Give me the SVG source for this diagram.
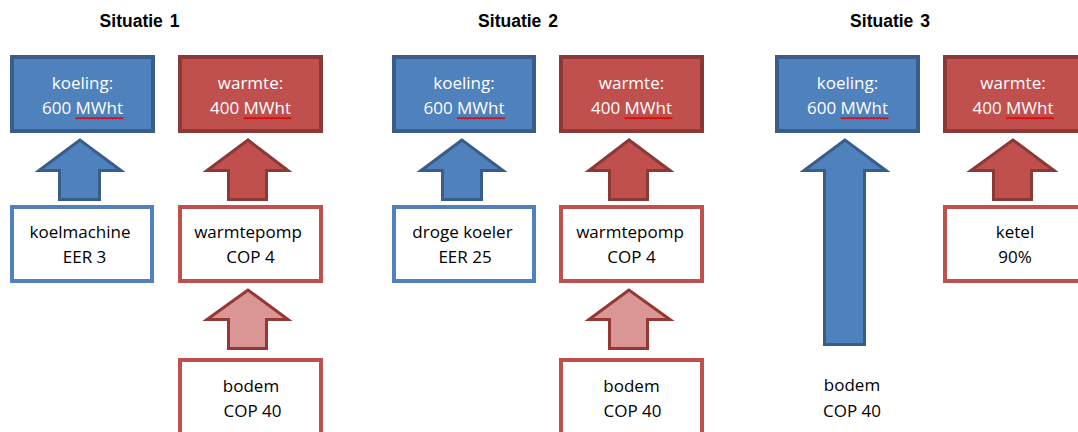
<svg xmlns="http://www.w3.org/2000/svg" width="1078" height="432" viewBox="0 0 1078 432">
<style>
.title{font-family:"Liberation Sans",Arial,sans-serif;font-weight:bold;font-size:17.5px;fill:#000;text-anchor:middle;word-spacing:2px}
.lbl{font-family:"Open Sans","Liberation Sans",Arial,sans-serif;font-size:17px;text-anchor:middle}
.w{fill:#fff}
.k{fill:#000}
.bluebox{fill:#4F81BD;stroke:#385D8A;stroke-width:4}
.redbox{fill:#C0504D;stroke:#8C3836;stroke-width:4}
.bluewhite{fill:#fff;stroke:#4F81BD;stroke-width:4}
.redwhite{fill:#fff;stroke:#C0504D;stroke-width:4}
.barrow{fill:#4F81BD;stroke:#385D8A;stroke-width:3;stroke-linejoin:miter}
.rarrow{fill:#C0504D;stroke:#8C3836;stroke-width:3;stroke-linejoin:miter}
.parrow{fill:#D99694;stroke:#953735;stroke-width:3;stroke-linejoin:miter}
.sq{fill:none;stroke:#E00000;stroke-width:1.3}
</style>
<defs>
<path id="squig" d="M0,0 l1.5,1.2 1.5,-1.2 1.5,1.2 1.5,-1.2 1.5,1.2 1.5,-1.2 1.5,1.2 1.5,-1.2 1.5,1.2 1.5,-1.2 1.5,1.2 1.5,-1.2 1.5,1.2 1.5,-1.2 1.5,1.2 1.5,-1.2 1.5,1.2 1.5,-1.2 1.5,1.2 1.5,-1.2 1.5,1.2 1.5,-1.2 1.5,1.2 1.5,-1.2 1.5,1.2 1.5,-1.2 1.5,1.2 1.5,-1.2 1.5,1.2 1.5,-1.2 1.5,1.2 1.5,-1.2"/>
</defs>

<text class="title" x="139.5" y="27">Situatie 1</text>
<text class="title" x="518" y="27">Situatie 2</text>
<text class="title" x="890" y="27">Situatie 3</text>

<g id="connectors">
<path class="barrow" d="M80,140 L39,170.5 L59.5,170.5 L59.5,199.5 L99.5,199.5 L99.5,170.5 L121,170.5 Z"/>
<path class="rarrow" d="M248,140 L207,170.5 L228.5,170.5 L228.5,199.5 L266.5,199.5 L266.5,170.5 L288,170.5 Z"/>
<path class="parrow" d="M248,290 L207,319.5 L228.5,319.5 L228.5,348.5 L266.5,348.5 L266.5,319.5 L288,319.5 Z"/>
<path class="barrow" d="M462,140 L421,170.5 L442.5,170.5 L442.5,199.5 L481.5,199.5 L481.5,170.5 L503,170.5 Z"/>
<path class="rarrow" d="M629,140 L589,170.5 L609.5,170.5 L609.5,199.5 L647.5,199.5 L647.5,170.5 L670,170.5 Z"/>
<path class="parrow" d="M629,290 L589,319.5 L609.5,319.5 L609.5,348.5 L647.5,348.5 L647.5,319.5 L670,319.5 Z"/>
<path class="barrow" d="M845,140 L804,170.5 L824.5,170.5 L824.5,344.5 L864.5,344.5 L864.5,170.5 L886,170.5 Z"/>
<path class="rarrow" d="M1013,140 L971,170.5 L993.5,170.5 L993.5,199.5 L1031.5,199.5 L1031.5,170.5 L1054,170.5 Z"/>
</g>

<g id="s1-koeling">
<rect class="bluebox" x="12" y="57" width="141" height="74"/>
<text class="lbl w" x="82.5" y="89">koeling:</text>
<text class="lbl w" x="82.5" y="114">600 MWht</text>
<use href="#squig" class="sq" x="75.5" y="117.5"/>
</g>
<g id="s1-warmte">
<rect class="redbox" x="180" y="57" width="141" height="74"/>
<text class="lbl w" x="250.5" y="89">warmte:</text>
<text class="lbl w" x="250.5" y="114">400 MWht</text>
<use href="#squig" class="sq" x="243.5" y="117.5"/>
</g>
<g id="s1-koelmachine">
<rect class="bluewhite" x="12" y="207" width="140" height="74"/>
<text class="lbl k" x="80" y="238">koelmachine</text>
<text class="lbl k" x="84.5" y="263">EER 3</text>
</g>
<g id="s1-warmtepomp">
<rect class="redwhite" x="180" y="207" width="141" height="74"/>
<text class="lbl k" x="248" y="238">warmtepomp</text>
<text class="lbl k" x="250.5" y="263">COP 4</text>
</g>
<g id="s1-bodem">
<rect class="redwhite" x="180" y="360" width="141" height="80"/>
<text class="lbl k" x="251" y="392">bodem</text>
<text class="lbl k" x="252.5" y="417">COP 40</text>
</g>

<g id="s2-koeling">
<rect class="bluebox" x="394" y="57" width="140" height="74"/>
<text class="lbl w" x="464" y="89">koeling:</text>
<text class="lbl w" x="464" y="114">600 MWht</text>
<use href="#squig" class="sq" x="457" y="117.5"/>
</g>
<g id="s2-warmte">
<rect class="redbox" x="561" y="57" width="141" height="74"/>
<text class="lbl w" x="631.5" y="89">warmte:</text>
<text class="lbl w" x="631.5" y="114">400 MWht</text>
<use href="#squig" class="sq" x="624.5" y="117.5"/>
</g>
<g id="s2-droge-koeler">
<rect class="bluewhite" x="394" y="207" width="140" height="74"/>
<text class="lbl k" x="462.5" y="238">droge koeler</text>
<text class="lbl k" x="465" y="263">EER 25</text>
</g>
<g id="s2-warmtepomp">
<rect class="redwhite" x="561" y="207" width="141" height="74"/>
<text class="lbl k" x="630" y="238">warmtepomp</text>
<text class="lbl k" x="631.5" y="263">COP 4</text>
</g>
<g id="s2-bodem">
<rect class="redwhite" x="561" y="360" width="141" height="80"/>
<text class="lbl k" x="631.5" y="392">bodem</text>
<text class="lbl k" x="632.5" y="417">COP 40</text>
</g>

<g id="s3-koeling">
<rect class="bluebox" x="777" y="57" width="141" height="74"/>
<text class="lbl w" x="847.5" y="89">koeling:</text>
<text class="lbl w" x="847.5" y="114">600 MWht</text>
<use href="#squig" class="sq" x="840.5" y="117.5"/>
</g>
<g id="s3-warmte">
<rect class="redbox" x="945" y="57" width="141" height="74"/>
<text class="lbl w" x="1013" y="89">warmte:</text>
<text class="lbl w" x="1013" y="114">400 MWht</text>
<use href="#squig" class="sq" x="1006" y="117.5"/>
</g>
<g id="s3-ketel">
<rect class="redwhite" x="945" y="207" width="141" height="74"/>
<text class="lbl k" x="1015" y="238">ketel</text>
<text class="lbl k" x="1015" y="263">90%</text>
</g>
<g id="s3-bodem">
<text class="lbl k" x="852" y="391">bodem</text>
<text class="lbl k" x="852" y="417">COP 40</text>
</g>
</svg>
